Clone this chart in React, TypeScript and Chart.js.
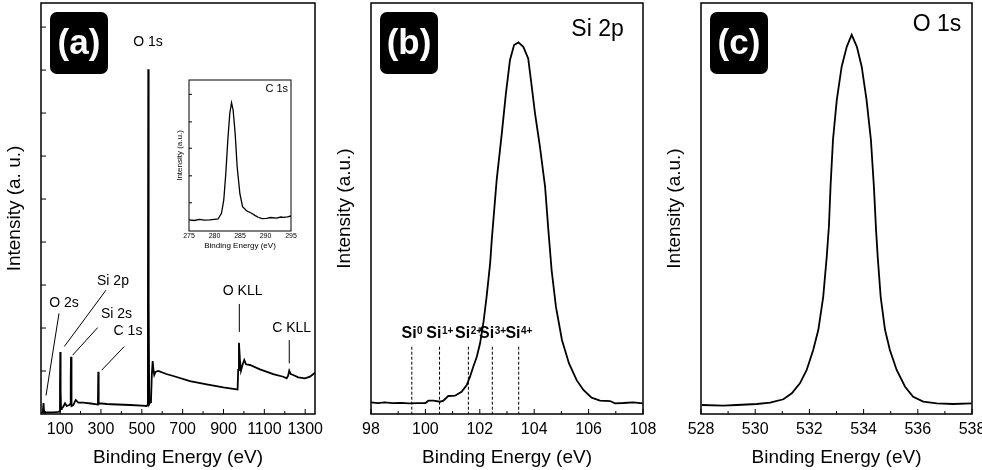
import React, { useEffect, useRef } from "react";
import { Chart, registerables } from "chart.js";

Chart.register(...registerables);

const FONT = '"Liberation Sans", Arial, Helvetica, sans-serif';

// ---------- (a) survey spectrum ----------
const surveyEnergy = [6.5, 12, 16, 18.7, 21.5, 26, 45, 70, 90, 97.5, 99.5, 101, 102.5, 104.5, 107.8, 115.7, 124, 132.3, 145, 150.5, 152, 153.4, 155, 156.8, 164.6, 176.4, 189.1, 213.6, 250, 279.2, 285.2, 287, 288.8, 291.9, 328.1, 380, 442.2, 500, 523.9, 528, 530, 531.7, 532.7, 534.5, 536.5, 541, 545, 549, 553.3, 557, 561, 567, 580.7, 620, 654.1, 735.9, 817.6, 898.9, 964.5, 969, 972, 975.7, 980.5, 985.5, 993, 1001.7, 1010, 1029.6, 1078.5, 1143.6, 1192.6, 1209.2, 1216, 1222, 1229, 1241.5, 1266, 1298.8, 1323.3, 1348];
const surveyIntensity = [0.023, 0.035, 0.07, 0.256, 0.07, 0.035, 0.04, 0.04, 0.047, 0.058, 0.674, 1.442, 0.558, 0.116, 0.133, 0.17, 0.249, 0.186, 0.209, 0.233, 0.79, 1.333, 0.674, 0.186, 0.209, 0.326, 0.263, 0.263, 0.244, 0.226, 0.233, 0.984, 0.233, 0.249, 0.233, 0.221, 0.209, 0.193, 0.186, 0.209, 2.65, 8.02, 8.02, 2.65, 0.233, 0.279, 0.3, 0.907, 1.233, 1.023, 0.907, 0.977, 1.0, 0.93, 0.884, 0.767, 0.691, 0.621, 0.574, 0.57, 1.023, 1.658, 1.256, 1.007, 1.14, 1.256, 1.156, 1.14, 1.04, 0.93, 0.867, 0.83, 0.884, 1.007, 0.93, 0.907, 0.853, 0.83, 0.867, 0.96];
const surveyXLabels = [100, 300, 500, 700, 900, 1100, 1300];
const surveyXMinor = [200, 400, 600, 800, 1000, 1200];
const surveyYTicks = [1, 2, 3, 4, 5, 6, 7, 8, 9];

// ---------- inset C 1s ----------
const c1sEnergy = [275, 276, 277.1, 278, 279.07, 280, 280.7, 281.37, 281.82, 282.22, 282.61, 283.0, 283.34, 283.65, 284.05, 284.44, 284.97, 285.5, 286.29, 287.27, 288.0, 288.57, 289.3, 290.22, 291.0, 292.19, 293.0, 293.49, 294.3, 295];
const c1sIntensity = [8.6, 8.2, 9.1, 8.5, 8.6, 9.0, 9.35, 13.8, 24.2, 45.0, 70.9, 91.7, 100, 94.3, 76.1, 50.1, 29.4, 18.9, 15.8, 13.8, 12.0, 10.7, 9.6, 9.9, 10.5, 10.1, 10.9, 10.7, 11.0, 11.7];
const c1sXLabels = [275, 280, 285, 290, 295];
const c1sYTicks = [22, 43, 64.5, 85, 106.5];

// ---------- (b) Si 2p ----------
const si2pEnergy = [98.0, 98.25, 98.5, 98.8, 99.1, 99.4, 99.7, 100.0, 100.11, 100.3, 100.54, 100.66, 100.84, 101.09, 101.33, 101.52, 101.64, 101.76, 101.89, 102.01, 102.13, 102.25, 102.38, 102.44, 102.62, 102.81, 102.96, 103.11, 103.26, 103.42, 103.6, 103.78, 103.91, 104.03, 104.21, 104.4, 104.52, 104.64, 104.8, 105.02, 105.28, 105.56, 105.81, 106.11, 106.42, 106.79, 106.97, 107.28, 107.64, 107.99];
const si2pIntensity = [3.15, 2.9, 3.1, 2.9, 3.0, 2.85, 2.95, 2.96, 3.58, 3.6, 3.3, 3.58, 4.84, 4.92, 5.99, 7.8, 10.03, 12.72, 15.4, 19.0, 24.4, 31.5, 40.5, 46.8, 62.9, 75.5, 86.2, 95.2, 99.2, 99.9, 98.7, 95.6, 88.0, 80.8, 71.9, 61.1, 49.5, 38.7, 28.8, 19.9, 13.6, 9.1, 6.45, 4.4, 3.58, 3.49, 2.88, 2.96, 3.15, 2.88];
const si2pXLabels = [98, 100, 102, 104, 106, 108];
const si2pXMinor = [99, 101, 103, 105, 107];
const siStates = ["0", "1+", "2+", "3+", "4+"];
const siStateEnergy = [99.5, 100.52, 101.58, 102.46, 103.43];

// ---------- (c) O 1s ----------
const o1sEnergy = [528.03, 528.82, 529.32, 530.06, 530.55, 531.04, 531.35, 531.65, 531.9, 532.14, 532.33, 532.51, 532.64, 532.72, 532.78, 532.87, 533.01, 533.19, 533.38, 533.56, 533.75, 533.93, 534.11, 534.27, 534.38, 534.46, 534.52, 534.63, 534.79, 534.97, 535.22, 535.53, 535.83, 536.2, 536.7, 537.31, 537.99];
const o1sIntensity = [2.37, 2.19, 2.37, 2.64, 2.98, 3.88, 5.46, 8.1, 11.6, 16.9, 22.2, 30.9, 41.5, 49.5, 60.0, 72.3, 82.8, 91.6, 96.9, 100, 96.9, 91.6, 82.8, 72.3, 60.0, 48.5, 41.5, 30.9, 22.2, 16.9, 11.6, 7.2, 4.56, 3.25, 2.82, 2.64, 2.82];
const o1sXLabels = [528, 530, 532, 534, 536, 538];
const o1sXMinor = [529, 531, 533, 535, 537];

type Txt = { x: number; y: number; s: string; size: number };
type Seg = { x1: number; y1: number; x2: number; y2: number; dash?: number[]; w?: number };
type Ion = { x: number; y: number; sup: string };
type Decor = {
  xMajor: number[];
  xMinor: number[];
  yMajor: number[];
  majorLen: number;
  minorLen: number;
  frameWidth: number;
  badge?: string;
  texts: Txt[];
  segs: Seg[];
  ions?: Ion[];
};

function decorPlugin(d: Decor) {
  return {
    id: "decor",
    afterDraw(chart: any) {
      const ctx = chart.ctx as CanvasRenderingContext2D;
      const { left, right, top, bottom } = chart.chartArea;
      const xs = chart.scales.x;
      const ys = chart.scales.y;
      const X = (v: number) => xs.getPixelForValue(v);
      const Y = (v: number) => ys.getPixelForValue(v);
      ctx.save();
      ctx.strokeStyle = "#000";
      ctx.fillStyle = "#000";
      ctx.lineWidth = d.frameWidth;
      ctx.strokeRect(left, top, right - left, bottom - top);
      ctx.lineWidth = 1;
      ctx.beginPath();
      for (const v of d.xMajor) {
        const p = X(v);
        ctx.moveTo(p, bottom);
        ctx.lineTo(p, bottom - d.majorLen);
      }
      for (const v of d.xMinor) {
        const p = X(v);
        ctx.moveTo(p, bottom);
        ctx.lineTo(p, bottom - d.minorLen);
      }
      for (const v of d.yMajor) {
        const p = Y(v);
        ctx.moveTo(left, p);
        ctx.lineTo(left + d.majorLen, p);
      }
      ctx.stroke();
      for (const s of d.segs) {
        ctx.setLineDash(s.dash || []);
        ctx.lineWidth = s.w ?? 1;
        ctx.beginPath();
        ctx.moveTo(X(s.x1), Y(s.y1));
        ctx.lineTo(X(s.x2), Y(s.y2));
        ctx.stroke();
      }
      ctx.setLineDash([]);
      ctx.textAlign = "center";
      ctx.textBaseline = "middle";
      for (const t of d.texts) {
        ctx.font = `${t.size}px ${FONT}`;
        ctx.fillText(t.s, X(t.x), Y(t.y));
      }
      for (const ion of d.ions || []) {
        const base = `bold 16px ${FONT}`;
        const sup = `bold 10px ${FONT}`;
        ctx.font = base;
        const w1 = ctx.measureText("Si").width;
        ctx.font = sup;
        const w2 = ctx.measureText(ion.sup).width;
        const x0 = X(ion.x) - (w1 + w2) / 2;
        const yb = Y(ion.y);
        ctx.textAlign = "left";
        ctx.textBaseline = "alphabetic";
        ctx.font = base;
        ctx.fillText("Si", x0, yb);
        ctx.font = sup;
        ctx.fillText(ion.sup, x0 + w1 + 0.5, yb - 4.5);
      }
      if (d.badge) {
        const bx = left + 9;
        const by = top + 9;
        const bw = 58;
        const bh = 62;
        ctx.fillStyle = "#000";
        ctx.beginPath();
        const r = 7;
        ctx.moveTo(bx + r, by);
        ctx.arcTo(bx + bw, by, bx + bw, by + bh, r);
        ctx.arcTo(bx + bw, by + bh, bx, by + bh, r);
        ctx.arcTo(bx, by + bh, bx, by, r);
        ctx.arcTo(bx, by, bx + bw, by, r);
        ctx.closePath();
        ctx.fill();
        ctx.fillStyle = "#fff";
        ctx.font = `bold 35px ${FONT}`;
        ctx.textAlign = "center";
        ctx.textBaseline = "middle";
        ctx.fillText(d.badge, bx + bw / 2, by + bh / 2 + 1);
      }
      ctx.restore();
    },
  };
}

type PanelSpec = {
  energy: number[];
  intensity: number[];
  xMin: number;
  xMax: number;
  yMax: number;
  xLabels: number[];
  xTitle: string;
  yTitle: string;
  tickSize: number;
  tickPad: number;
  xTitleSize: number;
  xTitlePad: number;
  yTitleSize: number;
  yTitlePad: number;
  yWidth: number;
  xHeight: number;
  padding: { left: number; top: number; right: number; bottom: number };
  lineWidth: number;
  decor: Decor;
};

function buildConfig(p: PanelSpec): any {
  const data = p.energy.map((e, i) => ({ x: e, y: p.intensity[i] }));
  return {
    type: "line",
    data: {
      datasets: [
        {
          data,
          borderColor: "#000",
          borderWidth: p.lineWidth,
          pointRadius: 0,
          tension: 0,
          fill: false,
        },
      ],
    },
    options: {
      responsive: false,
      animation: false,
      devicePixelRatio: 1,
      events: [],
      layout: { padding: p.padding },
      plugins: {
        legend: { display: false },
        tooltip: { enabled: false },
      },
      scales: {
        x: {
          type: "linear",
          min: p.xMin,
          max: p.xMax,
          afterBuildTicks: (s: any) => {
            s.ticks = p.xLabels.map((v) => ({ value: v }));
          },
          afterFit: (s: any) => {
            s.height = p.xHeight;
            s.paddingLeft = 0;
            s.paddingRight = 0;
          },
          grid: { display: false, drawTicks: false },
          border: { display: false },
          ticks: {
            color: "#000",
            font: { family: FONT, size: p.tickSize },
            padding: p.tickPad,
            autoSkip: false,
            maxRotation: 0,
            minRotation: 0,
            callback: (v: any) => String(v),
          },
          title: {
            display: true,
            text: p.xTitle,
            color: "#000",
            font: { family: FONT, size: p.xTitleSize },
            padding: { top: 0, bottom: p.xTitlePad },
          },
        },
        y: {
          type: "linear",
          min: 0,
          max: p.yMax,
          afterFit: (s: any) => {
            s.width = p.yWidth;
            s.paddingTop = 0;
            s.paddingBottom = 0;
          },
          grid: { display: false, drawTicks: false },
          border: { display: false },
          ticks: { display: false },
          title: {
            display: true,
            text: p.yTitle,
            color: "#000",
            font: { family: FONT, size: p.yTitleSize },
            padding: { top: p.yTitlePad, bottom: 0 },
          },
        },
      },
    },
    plugins: [decorPlugin(p.decor)],
  };
}

const surveySpec: PanelSpec = {
  energy: surveyEnergy,
  intensity: surveyIntensity,
  xMin: 6.5,
  xMax: 1348,
  yMax: 9.56,
  xLabels: surveyXLabels,
  xTitle: "Binding Energy (eV)",
  yTitle: "Intensity (a. u.)",
  tickSize: 16,
  tickPad: 6,
  xTitleSize: 19,
  xTitlePad: 1,
  yTitleSize: 19,
  yTitlePad: 3,
  yWidth: 41,
  xHeight: 56,
  padding: { left: 0, top: 3, right: 15, bottom: 0 },
  lineWidth: 1.8,
  decor: {
    xMajor: surveyXLabels,
    xMinor: surveyXMinor,
    yMajor: surveyYTicks,
    majorLen: 5,
    minorLen: 3,
    frameWidth: 1.5,
    badge: "(a)",
    texts: [
      { x: 530.3, y: 8.64, s: "O 1s", size: 14 },
      { x: 119.1, y: 2.59, s: "O 2s", size: 14 },
      { x: 358.9, y: 3.09, s: "Si 2p", size: 14 },
      { x: 376.1, y: 2.33, s: "Si 2s", size: 14 },
      { x: 432.4, y: 1.93, s: "C 1s", size: 14 },
      { x: 993.8, y: 2.85, s: "O KLL", size: 14 },
      { x: 1233.7, y: 2.0, s: "C KLL", size: 14 },
    ],
    segs: [
      { x1: 94.6, y1: 2.34, x2: 31, y2: 0.43 },
      { x1: 324.7, y1: 2.88, x2: 120.6, y2: 1.57 },
      { x1: 284.1, y1: 2.01, x2: 161.7, y2: 1.37 },
      { x1: 414.3, y1: 1.57, x2: 303.6, y2: 1.02 },
      { x1: 977.5, y1: 2.56, x2: 977.5, y2: 1.91 },
      { x1: 1222, y1: 1.72, x2: 1222, y2: 1.18 },
    ],
  },
};

const insetSpec: PanelSpec = {
  energy: c1sEnergy,
  intensity: c1sIntensity,
  xMin: 275,
  xMax: 295,
  yMax: 117.7,
  xLabels: c1sXLabels,
  xTitle: "Binding Energy (eV)",
  yTitle: "Intensity (a.u.)",
  tickSize: 7,
  tickPad: 1,
  xTitleSize: 8,
  xTitlePad: 1.5,
  yTitleSize: 8,
  yTitlePad: 4.5,
  yWidth: 19,
  xHeight: 21,
  padding: { left: 0, top: 4, right: 9, bottom: 0 },
  lineWidth: 1.3,
  decor: {
    xMajor: [],
    xMinor: [],
    yMajor: c1sYTicks,
    majorLen: 3,
    minorLen: 2,
    frameWidth: 1,
    texts: [{ x: 292.2, y: 110.4, s: "C 1s", size: 11 }],
    segs: [],
  },
};

const si2pSpec: PanelSpec = {
  energy: si2pEnergy,
  intensity: si2pIntensity,
  xMin: 98,
  xMax: 108,
  yMax: 110.5,
  xLabels: si2pXLabels,
  xTitle: "Binding Energy (eV)",
  yTitle: "Intensity (a.u.)",
  tickSize: 16,
  tickPad: 6,
  xTitleSize: 19,
  xTitlePad: 1,
  yTitleSize: 19,
  yTitlePad: 3,
  yWidth: 41,
  xHeight: 56,
  padding: { left: 0, top: 3, right: 17, bottom: 0 },
  lineWidth: 1.8,
  decor: {
    xMajor: si2pXLabels,
    xMinor: si2pXMinor,
    yMajor: [],
    majorLen: 5,
    minorLen: 3,
    frameWidth: 1.5,
    badge: "(b)",
    texts: [{ x: 106.33, y: 103.2, s: "Si 2p", size: 23 }],
    segs: siStateEnergy.map((e) => ({ x1: e, y1: 18.1, x2: e, y2: 0, dash: [3, 2], w: 1 })),
    ions: siStateEnergy.map((e, i) => ({ x: e, y: 20.3, sup: siStates[i] })),
  },
};

const o1sSpec: PanelSpec = {
  energy: o1sEnergy,
  intensity: o1sIntensity,
  xMin: 528,
  xMax: 538,
  yMax: 108.4,
  xLabels: o1sXLabels,
  xTitle: "Binding Energy (eV)",
  yTitle: "Intensity (a.u.)",
  tickSize: 16,
  tickPad: 6,
  xTitleSize: 19,
  xTitlePad: 1,
  yTitleSize: 19,
  yTitlePad: 3,
  yWidth: 41,
  xHeight: 56,
  padding: { left: 0, top: 3, right: 10, bottom: 0 },
  lineWidth: 1.8,
  decor: {
    xMajor: o1sXLabels,
    xMinor: o1sXMinor,
    yMajor: [],
    majorLen: 5,
    minorLen: 3,
    frameWidth: 1.5,
    badge: "(c)",
    texts: [{ x: 536.71, y: 102.6, s: "O 1s", size: 23 }],
    segs: [],
  },
};

function ChartCanvas(props: { left: number; top: number; width: number; height: number; spec: PanelSpec }) {
  const ref = useRef<HTMLCanvasElement>(null);
  useEffect(() => {
    const chart = new Chart(ref.current as HTMLCanvasElement, buildConfig(props.spec));
    return () => chart.destroy();
  }, []);
  return (
    <div style={{ position: "absolute", left: props.left, top: props.top, width: props.width, height: props.height }}>
      <canvas ref={ref} width={props.width} height={props.height} style={{ width: props.width, height: props.height, display: "block" }} />
    </div>
  );
}

export default function App() {
  return (
    <div style={{ position: "absolute", left: 0, top: 0, width: 982, height: 470, background: "#fff", overflow: "hidden" }}>
      <ChartCanvas left={0} top={0} width={330} height={470} spec={surveySpec} />
      <ChartCanvas left={330} top={0} width={330} height={470} spec={si2pSpec} />
      <ChartCanvas left={660} top={0} width={322} height={470} spec={o1sSpec} />
      <ChartCanvas left={170} top={76} width={130} height={176} spec={insetSpec} />
    </div>
  );
}
